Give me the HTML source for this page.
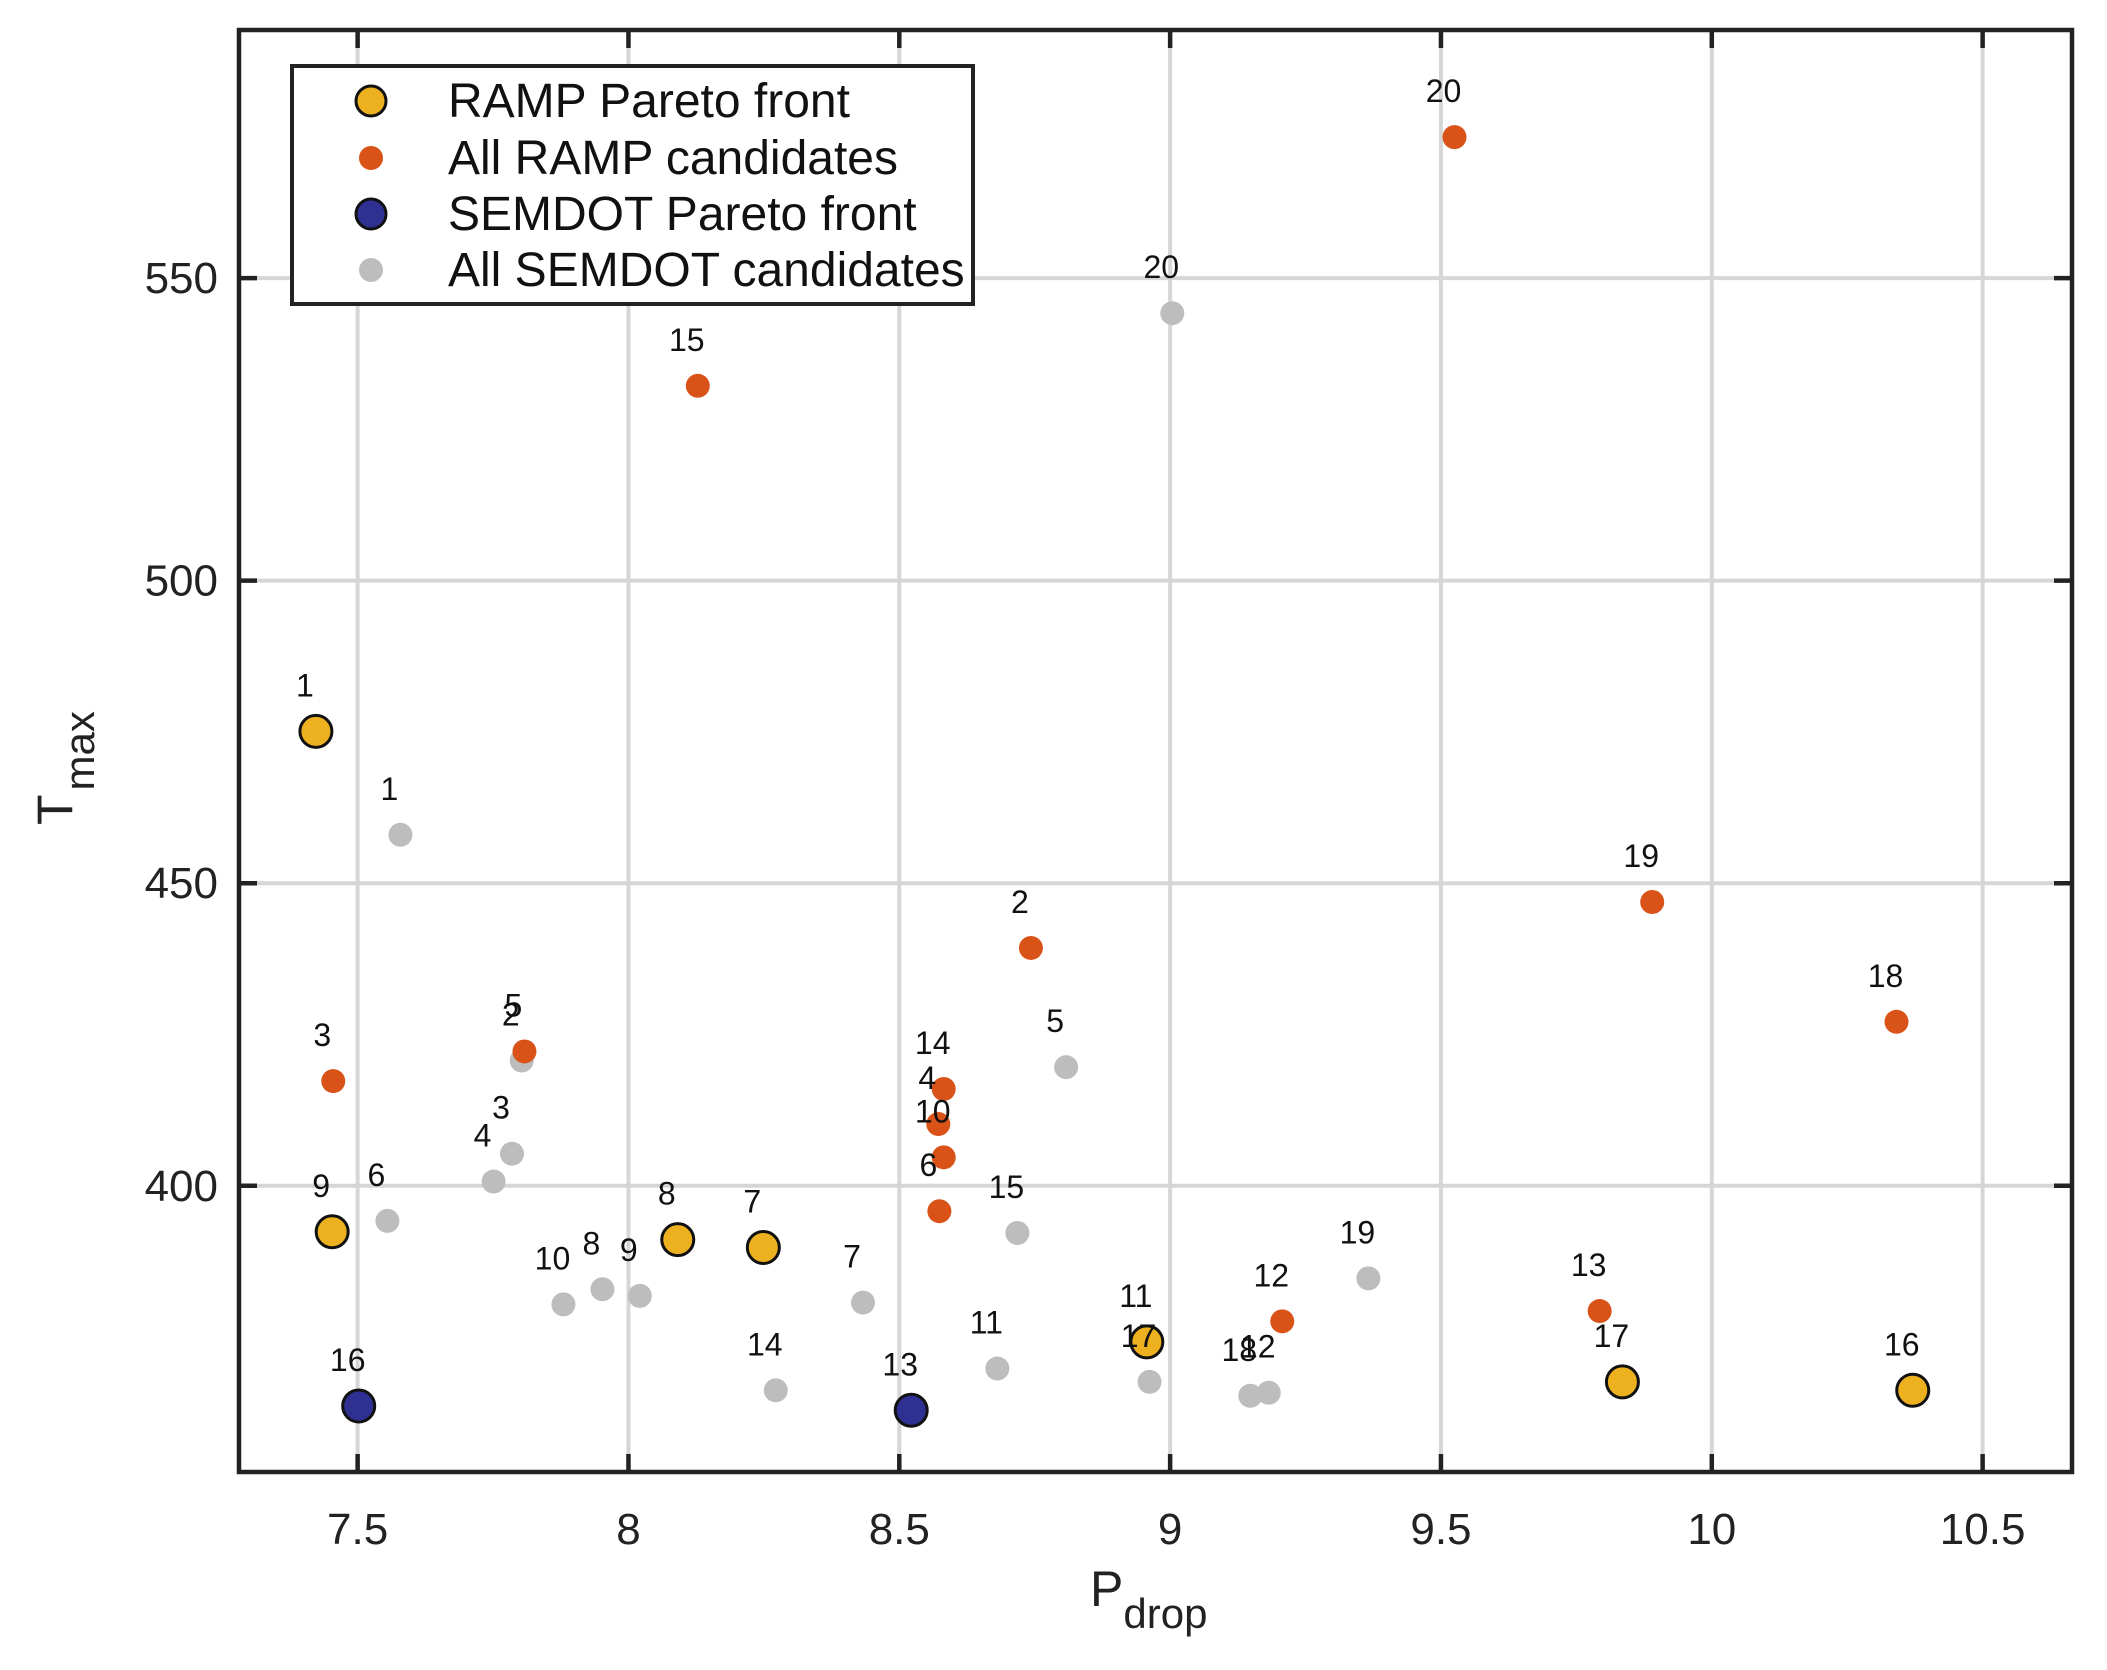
<!DOCTYPE html>
<html><head><meta charset="utf-8"><style>
html,body{margin:0;padding:0;background:#fff;}
svg{display:block;font-family:"Liberation Sans",Arial,sans-serif;}
</style></head><body>
<svg id="chart" width="2107" height="1670" viewBox="0 0 2107 1670" xmlns="http://www.w3.org/2000/svg">
<rect x="0" y="0" width="2107" height="1670" fill="#fff"/>
<g id="grid"></g>
<g id="marks"></g>
<g id="labels"></g>
<rect x="239" y="30" width="1833" height="1442" fill="none" stroke="#222" stroke-width="4.5"/>
<g id="ticks"></g>
<text x="1090" y="1606" font-size="50" fill="#222">P<tspan font-size="42" dy="22">drop</tspan></text>
<text transform="translate(72,825) rotate(-90)" font-size="50" fill="#222">T<tspan font-size="42" dy="22" dx="4">max</tspan></text>
<g>
<rect x="292" y="66" width="681" height="238" fill="#fff" stroke="#222" stroke-width="4"/>
<circle cx="371" cy="101" r="15" fill="#edb120" stroke="#111" stroke-width="3"/>
<text x="448" y="117" font-size="48" fill="#111">RAMP Pareto front</text>
<circle cx="371" cy="158" r="12" fill="#d95319"/>
<text x="448" y="174" font-size="48" fill="#111">All RAMP candidates</text>
<circle cx="371" cy="214" r="15" fill="#2e3192" stroke="#111" stroke-width="3"/>
<text x="448" y="230" font-size="48" fill="#111">SEMDOT Pareto front</text>
<circle cx="371" cy="270" r="12" fill="#bdbdbd"/>
<text x="448" y="286" font-size="48" fill="#111">All SEMDOT candidates</text>
</g>
</svg>
<script>
const xTicks = [7.5, 8, 8.5, 9, 9.5, 10, 10.5];
const xTickLabels = ["7.5", "8", "8.5", "9", "9.5", "10", "10.5"];
const yTicks = [400, 450, 500, 550];
const yTickLabels = ["400", "450", "500", "550"];
const rampAllIds = [20, 15, 19, 2, 18, 5, 3, 14, 4, 10, 6, 13, 12];
const rampAllX = [9.525, 8.128, 9.89, 8.743, 10.341, 7.808, 7.455, 8.582, 8.572, 8.582, 8.574, 9.793, 9.207];
const rampAllY = [573.3, 532.2, 446.9, 439.3, 427.1, 422.2, 417.3, 416.0, 410.2, 404.7, 395.8, 379.3, 377.6];
const semAllIds = [20, 1, 5, 2, 3, 4, 6, 15, 19, 10, 8, 9, 7, 14, 11, 17, 18, 12];
const semAllX = [9.004, 7.579, 8.808, 7.803, 7.785, 7.751, 7.555, 8.718, 9.366, 7.880, 7.952, 8.021, 8.433, 8.272, 8.681, 8.962, 9.148, 9.182];
const semAllY = [544.2, 458.0, 419.6, 420.7, 405.3, 400.7, 394.2, 392.2, 384.7, 380.4, 382.9, 381.8, 380.7, 366.2, 369.8, 367.6, 365.3, 365.8];
const rampParIds = [1, 9, 8, 7, 11, 17, 16];
const rampParX = [7.423, 7.453, 8.091, 8.249, 8.957, 9.835, 10.371];
const rampParY = [475.1, 392.4, 391.1, 389.8, 374.2, 367.6, 366.2];
const semParIds = [16, 13];
const semParX = [7.502, 8.522];
const semParY = [363.6, 362.9];

const NS = "http://www.w3.org/2000/svg";
const L = 239, R = 2072, T = 30, B = 1472;
const xMin = 7.281, xMax = 10.665, yMin = 352.7, yMax = 591.0;
function sx(v){ return L + (v - xMin) / (xMax - xMin) * (R - L); }
function sy(v){ return B - (v - yMin) / (yMax - yMin) * (B - T); }
function mk(tag, attrs, parent){ const e = document.createElementNS(NS, tag); for (const k in attrs) e.setAttribute(k, attrs[k]); parent.appendChild(e); return e; }

const grid = document.getElementById('grid'), ticks = document.getElementById('ticks');
xTicks.forEach((v, i) => {
  const x = sx(v);
  const g = mk('line', {x1:x, x2:x, y1:T, y2:B, stroke:'#d6d6d6', 'stroke-width':4}, grid);
  
  
  mk('line', {x1:x, x2:x, y1:B, y2:B-18, stroke:'#222', 'stroke-width':4.5}, ticks);
  mk('line', {x1:x, x2:x, y1:T, y2:T+18, stroke:'#222', 'stroke-width':4.5}, ticks);
  const t = mk('text', {x:x, y:1544, 'font-size':44, 'text-anchor':'middle', fill:'#222'}, ticks);
  
  
  t.textContent = xTickLabels[i];
});
yTicks.forEach((v, i) => {
  const y = sy(v);
  const g = mk('line', {x1:L, x2:R, y1:y, y2:y, stroke:'#d6d6d6', 'stroke-width':4}, grid);
  
  
  mk('line', {x1:L, x2:L+18, y1:y, y2:y, stroke:'#222', 'stroke-width':4.5}, ticks);
  mk('line', {x1:R, x2:R-18, y1:y, y2:y, stroke:'#222', 'stroke-width':4.5}, ticks);
  const t = mk('text', {x:218, y:y+15, 'font-size':44, 'text-anchor':'end', fill:'#222'}, ticks);
  
  
  t.textContent = yTickLabels[i];
});

const marks = document.getElementById('marks'), labels = document.getElementById('labels');
function series(ids, xs, ys, fill, r, stroke, name){
  ids.forEach((id, i) => {
    const cx = sx(xs[i]), cy = sy(ys[i]);
    const c = mk('circle', {cx:cx, cy:cy, r:r, fill:fill}, marks);
    if (stroke) { c.setAttribute('stroke', '#111'); c.setAttribute('stroke-width', 3); }
    
    
    const t = mk('text', {x:cx - 11, y:cy - 35, 'font-size':32, 'text-anchor':'middle', fill:'#111'}, labels);
    
    
    t.textContent = String(id);
  });
}
series(semAllIds, semAllX, semAllY, '#bdbdbd', 12, false, 'semdot-candidate');
series(rampAllIds, rampAllX, rampAllY, '#d95319', 12, false, 'ramp-candidate');
series(rampParIds, rampParX, rampParY, '#edb120', 16, true, 'ramp-pareto');
series(semParIds, semParX, semParY, '#2e3192', 16, true, 'semdot-pareto');
</script>
</body></html>
